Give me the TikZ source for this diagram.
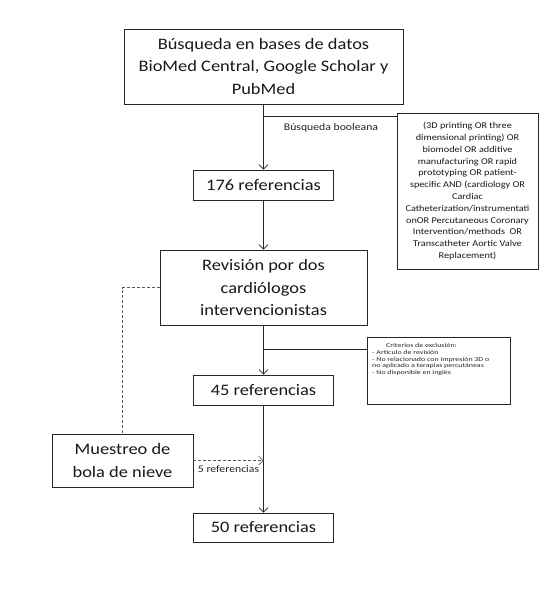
\documentclass[tikz,border=0pt]{standalone}
\usepackage{fontspec}
\setmainfont{Carlito}[FakeStretch=1.15]
\newfontfamily\exclfont{Carlito}[FakeStretch=1.32]
\usetikzlibrary{arrows.meta}
\begin{document}
\begin{tikzpicture}[x=1pt,y=-1pt,
  box/.style={draw=black!85, line width=0.8pt, inner sep=0pt, align=center, text=black!90,
    font=\fontsize{16}{22.5}\selectfont},
  link/.style={draw=black!85, line width=0.8pt},
  arr/.style={link, -{Straight Barb[length=4.5pt,width=9pt,line width=0.7pt]}},
  dsh/.style={draw=black!65, line width=0.8pt, dash pattern=on 3pt off 2pt},
  dsharr/.style={dsh, -{Straight Barb[length=4.5pt,width=9pt,line width=0.7pt]}},
  lbl/.style={inner sep=0pt, text=black!85, font=\fontsize{10.2}{12}\selectfont}
]
\path[use as bounding box, fill=white] (0,0) rectangle (547,600);

\node[box, minimum width=279pt, minimum height=75pt] (b1) at (263.5,66.5)
  {Búsqueda en bases de datos\\BioMed Central, Google Scholar y\\PubMed};
\node[box, minimum width=141pt, minimum height=156pt, font=\fontsize{8.9}{11.8}\selectfont] (bool) at (467.5,191)
  {(3D printing OR three\\dimensional printing) OR\\biomodel OR additive\\manufacturing OR rapid\\prototyping OR patient-\\specific AND (cardiology OR\\Cardiac\\Catheterization/instrumentati\\onOR Percutaneous Coronary\\Intervention/methods\ \ OR\\Transcatheter Aortic Valve\\Replacement)};
\node[box, minimum width=140pt, minimum height=30pt] (r176) at (263.5,185) {176 referencias};
\node[box, minimum width=207pt, minimum height=75pt] (rev) at (263.5,287.5)
  {Revisión por dos\\cardiólogos\\intervencionistas};
\node[box, minimum width=143pt, minimum height=67pt] (excl) at (438.5,370.5) {};
\node[inner sep=0pt, anchor=base, text=black!85, font=\exclfont\fontsize{6}{6.8}\selectfont] (exT) at (421.5,347) {Criterios de exclusión:};
\node[inner sep=0pt, anchor=north west, align=left, text=black!85, font=\exclfont\fontsize{6}{6.8}\selectfont] (exL) at (372,350)
  {- Articulo de revisión\\- No relacionado con impresión 3D o\\no aplicado a terapias percutáneas\\- No disponible en inglés};
\node[box, minimum width=140pt, minimum height=30pt] (r45) at (263.5,390) {45 referencias};
\node[box, minimum width=141pt, minimum height=53pt] (mue) at (122.5,460.5)
  {Muestreo de\\bola de nieve};
\node[box, minimum width=140pt, minimum height=29pt] (r50) at (263.5,527.5) {50 referencias};

\coordinate (j1) at (263.5,116);
\coordinate (j2) at (263.5,349);
\draw[arr] (b1.south) -- (r176.north);
\draw[link] (j1) -- (j1 -| bool.west);
\node[lbl] (lb1) at (331,128) {Búsqueda booleana};
\draw[arr] (r176.south) -- (rev.north);
\draw[arr] (rev.south) -- (r45.north);
\draw[link] (j2) -- (j2 -| excl.west);
\draw[arr] (r45.south) -- (r50.north);
\draw[dsh] (rev.west) -| (mue.north);
\draw[dsharr] (mue.east) -- (mue.east -| r45.south);
\node[lbl] (lb2) at (228.5,469.5) {5 referencias};
\end{tikzpicture}
\end{document}
